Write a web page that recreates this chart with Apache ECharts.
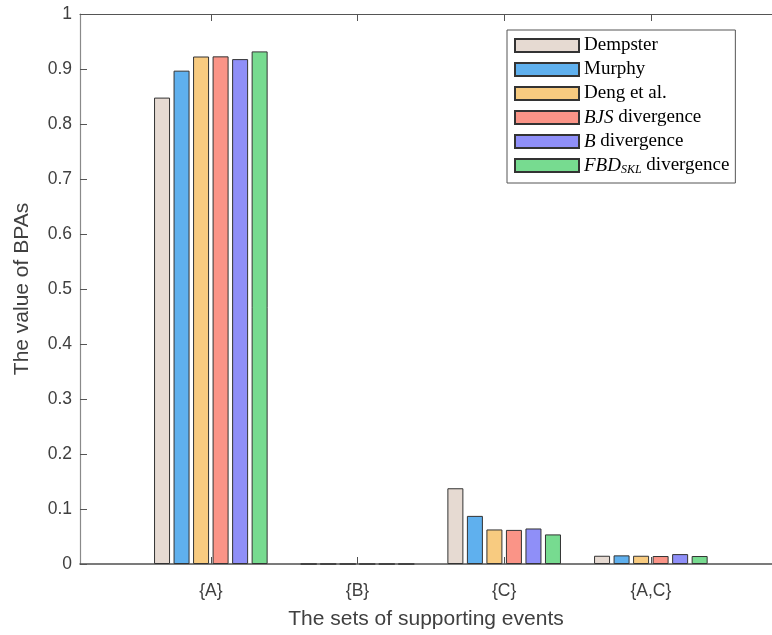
<!DOCTYPE html>
<html>
<head>
<meta charset="utf-8">
<script src="https://cdn.jsdelivr.net/npm/echarts@6/dist/echarts.min.js"></script>
<style>html,body{margin:0;padding:0;background:#fff}#c{width:772px;height:635px}</style>
</head>
<body>
<div id="c"></div>
<script>
const categories = ['{A}', '{B}', '{C}', '{A,C}'];
const categoryPositions = [1, 2, 3, 4];
const seriesNames = ['Dempster', 'Murphy', 'Deng et al.', 'BJS divergence', 'B divergence', 'FBD_SKL divergence'];
const dempster = [0.848, 0, 0.1377, 0.015];
const murphy = [0.897, 0, 0.0875, 0.0157];
const deng = [0.9227, 0, 0.0628, 0.015];
const bjs = [0.923, 0, 0.062, 0.0145];
const bdiv = [0.918, 0, 0.0646, 0.018];
const fbd = [0.932, 0, 0.0538, 0.0145];
const colors = ['#e6dad2', '#5fb0ee', '#f8cb80', '#fa9487', '#8f8ff8', '#77db90'];
const allValues = [dempster, murphy, deng, bjs, bdiv, fbd];

const chart = echarts.init(document.getElementById('c'));
const font = 'Liberation Sans, Arial, Helvetica, sans-serif';
const xMin = 0.108, xMax = 4.826;

const series = seriesNames.map((name, i) => ({
  name: name,
  type: 'bar',
  barWidth: 16,
  barGap: '22%',
  itemStyle: { color: colors[i], borderColor: '#333', borderWidth: 1 },
  data: categoryPositions.map((p, j) => [p, allValues[i][j]])
}));

const legendFmt = {
  'Dempster': 'Dempster',
  'Murphy': 'Murphy',
  'Deng et al.': 'Deng et al.',
  'BJS divergence': '{i|BJS} divergence',
  'B divergence': '{i|B} divergence',
  'FBD_SKL divergence': '{i|FBD}{s|SKL} divergence'
};

chart.setOption({
  animation: false,
  backgroundColor: '#fff',
  grid: { left: 80, top: 14, right: 0, bottom: 69 },
  legend: {
    orient: 'vertical',
    left: 507,
    top: 30,
    icon: 'rect',
    itemWidth: 64,
    itemHeight: 13,
    itemGap: 5,
    padding: [6, 6, 7, 7],
    borderColor: '#555',
    borderWidth: 1,
    backgroundColor: '#fff',
    data: seriesNames,
    formatter: n => legendFmt[n],
    textStyle: {
      fontFamily: 'Liberation Serif, Times New Roman, serif',
      fontSize: 19,
      color: '#000',
      lineHeight: 19,
      rich: {
        i: { fontFamily: 'Liberation Serif, serif', fontStyle: 'italic', fontSize: 19, color: '#000' },
        s: { fontFamily: 'Liberation Serif, serif', fontStyle: 'italic', fontSize: 12, color: '#000', padding: [9, 0, 0, 0] }
      }
    }
  },
  xAxis: [{
    type: 'value',
    min: xMin,
    max: xMax,
    name: 'The sets of supporting events',
    nameLocation: 'middle',
    nameGap: 45,
    nameTextStyle: { fontFamily: font, fontSize: 21, color: '#404040' },
    axisLine: { show: true, lineStyle: { color: '#505050', width: 1.5 } },
    axisTick: { show: true, inside: true, length: 7, customValues: categoryPositions, lineStyle: { color: '#505050' } },
    axisLabel: {
      customValues: categoryPositions,
      formatter: v => categories[Math.round(v) - 1],
      fontFamily: font, fontSize: 17.5, color: '#404040', margin: 18
    },
    splitLine: { show: false }
  }, {
    type: 'value',
    position: 'top',
    min: xMin,
    max: xMax,
    axisLine: { show: true, lineStyle: { color: '#555', width: 1 } },
    axisTick: { show: true, inside: true, length: 7, customValues: categoryPositions, lineStyle: { color: '#555' } },
    axisLabel: { show: false },
    splitLine: { show: false }
  }],
  yAxis: {
    type: 'value',
    min: 0,
    max: 1,
    interval: 0.1,
    name: 'The value of BPAs',
    nameLocation: 'middle',
    nameGap: 47,
    nameTextStyle: { fontFamily: font, fontSize: 21, color: '#404040' },
    axisLine: { show: true, lineStyle: { color: '#8a8a8a', width: 1.2 } },
    axisTick: { show: true, inside: true, length: 7, lineStyle: { color: '#555' } },
    axisLabel: { fontFamily: font, fontSize: 17.5, color: '#404040', margin: 8 },
    splitLine: { show: false }
  },
  series: series
});
</script>
</body>
</html>
